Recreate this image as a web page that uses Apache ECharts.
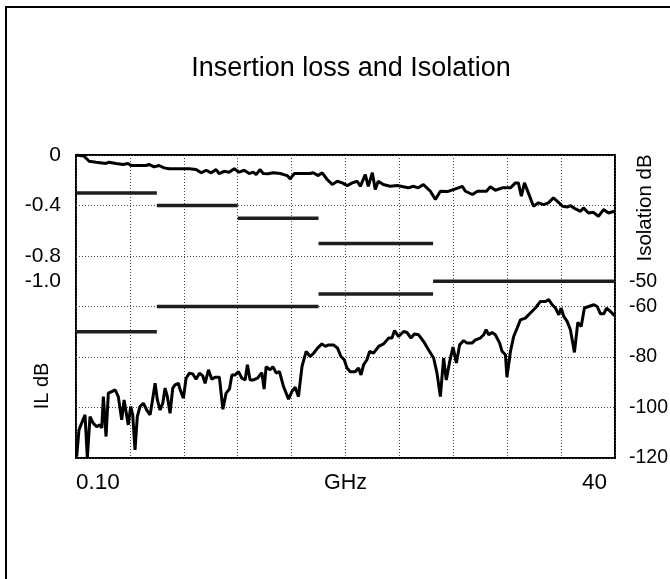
<!DOCTYPE html>
<html>
<head>
<meta charset="utf-8">
<title>Insertion loss and Isolation</title>
<script src="https://cdn.jsdelivr.net/npm/echarts@6/dist/echarts.min.js"></script>
<style>
  html, body { margin: 0; padding: 0; background: #fff; }
  #chart { width: 670px; height: 579px; }
</style>
</head>
<body>
<div id="chart"></div>
<script>
// insertion loss curve (GHz, dB)
var ilFreq = [0, 0.59, 0.97, 1.49, 2.23, 2.45, 2.97, 3.49, 3.86, 4.09, 4.46, 5.2, 5.42, 5.79, 6.17, 6.54, 6.91, 7.43, 8.39, 8.91,
  9.29, 9.66, 10.03, 10.4, 10.62, 10.99, 11.36, 11.74, 12.11, 12.48, 12.85, 13.15, 13.37, 13.67, 13.89, 14.26, 14.63, 15.15, 15.67, 15.9,
  16.19, 16.64, 17.38, 17.6, 17.98, 18.27, 18.64, 19.02, 19.39, 19.76, 20.13, 20.5, 20.87, 21.1, 21.47, 21.69, 21.99, 22.21, 22.43, 22.8,
  23.32, 23.84, 24.29, 24.66, 25.03, 25.4, 25.78, 26.3, 26.67, 27.04, 27.56, 28.16, 28.67, 28.9, 29.42, 29.79, 30.46, 30.75, 31.12, 31.64,
  32.24, 32.61, 32.83, 33.05, 33.28, 33.57, 33.95, 34.32, 34.69, 35.06, 35.43, 35.73, 36.1, 36.47, 36.69, 37.07, 37.44, 37.66, 38.03, 38.4,
  38.77, 39.15, 39.52, 39.96];
var ilLoss = [0, -0.008, -0.049, -0.057, -0.067, -0.057, -0.067, -0.075, -0.067, -0.083, -0.083, -0.083, -0.075, -0.094, -0.083, -0.102, -0.109, -0.109, -0.109, -0.115,
  -0.141, -0.121, -0.141, -0.115, -0.147, -0.129, -0.136, -0.109, -0.136, -0.121, -0.147, -0.136, -0.155, -0.115, -0.147, -0.149, -0.141, -0.147, -0.163, -0.189,
  -0.147, -0.147, -0.147, -0.141, -0.163, -0.141, -0.194, -0.234, -0.208, -0.221, -0.242, -0.221, -0.208, -0.248, -0.155, -0.248, -0.141, -0.274, -0.208, -0.234,
  -0.248, -0.242, -0.252, -0.26, -0.248, -0.26, -0.234, -0.287, -0.353, -0.287, -0.29, -0.268, -0.248, -0.287, -0.313, -0.287, -0.287, -0.252, -0.279, -0.26,
  -0.26, -0.221, -0.221, -0.327, -0.221, -0.3, -0.406, -0.379, -0.393, -0.379, -0.34, -0.367, -0.406, -0.411, -0.401, -0.427, -0.446, -0.419, -0.459, -0.454,
  -0.486, -0.432, -0.459, -0.446];

// isolation curve (GHz, dB)
var isoFreq = [0.05, 0.22, 0.42, 0.67, 0.84, 1.04, 1.26, 1.54, 1.78, 1.91, 2.03, 2.23, 2.4, 2.65, 2.9, 3.14, 3.39, 3.57, 3.88, 4.06,
  4.21, 4.38, 4.55, 4.75, 5.0, 5.25, 5.5, 5.7, 5.87, 6.04, 6.24, 6.44, 6.61, 6.78, 6.98, 7.18, 7.35, 7.6, 7.73, 7.97,
  8.17, 8.42, 8.67, 8.91, 9.16, 9.41, 9.58, 9.83, 10.08, 10.32, 10.64, 10.9, 11.14, 11.39, 11.57, 11.81, 12.06, 12.31, 12.55, 12.72,
  12.92, 13.17, 13.47, 13.79, 13.96, 14.11, 14.41, 14.61, 14.86, 15.1, 15.4, 15.77, 16.02, 16.27, 16.51, 16.77, 17.08, 17.38, 17.63, 17.92,
  18.25, 18.5, 18.74, 19.11, 19.41, 19.66, 19.91, 20.11, 20.35, 20.72, 20.97, 21.15, 21.34, 21.59, 21.79, 22.08, 22.46, 22.83, 23.2, 23.45,
  23.64, 23.94, 24.31, 24.56, 24.86, 25.11, 25.43, 25.8, 26.17, 26.54, 26.79, 27.04, 27.28, 27.48, 27.73, 27.98, 28.23, 28.47, 28.77, 29.02,
  29.39, 29.64, 30.01, 30.25, 30.43, 30.63, 30.88, 31.12, 31.44, 31.62, 31.87, 31.98, 32.24, 32.48, 32.74, 32.98, 33.35, 33.72, 34.09, 34.47,
  34.84, 35.08, 35.34, 35.58, 35.83, 36.0, 36.2, 36.45, 36.69, 36.99, 37.24, 37.49, 37.73, 38.05, 38.43, 38.68, 38.92, 39.17, 39.37, 39.67,
  39.96];
var isoDb = [-119.5, -108.9, -106.2, -102.9, -120.0, -103.6, -106.1, -107.6, -106.9, -108.1, -95.7, -111.5, -94.3, -93.7, -93.0, -95.7, -104.9, -97.0, -106.9, -99.6,
  -102.9, -116.8, -103.6, -99.6, -98.3, -101.0, -102.9, -96.3, -90.4, -97.0, -101.0, -98.3, -92.3, -95.7, -102.3, -92.3, -91.0, -90.4, -93.0, -96.3,
  -88.4, -86.4, -86.7, -88.8, -86.4, -87.5, -90.4, -85.1, -88.8, -88.0, -88.0, -100.7, -94.3, -92.7, -87.1, -87.1, -85.8, -88.4, -89.1, -83.1,
  -89.1, -89.1, -88.4, -86.2, -92.7, -83.8, -85.1, -83.8, -86.4, -85.8, -91.7, -96.7, -93.7, -92.0, -95.7, -83.8, -77.8, -79.8, -78.5, -76.5,
  -74.8, -75.8, -75.2, -75.2, -76.5, -79.8, -81.1, -84.4, -85.8, -85.8, -84.4, -87.1, -83.1, -81.1, -77.8, -78.5, -75.8, -74.8, -72.5, -72.5,
  -69.5, -71.9, -69.9, -70.3, -72.5, -70.9, -71.2, -73.9, -77.2, -80.4, -86.4, -95.7, -80.4, -89.1, -81.8, -76.1, -82.4, -75.2, -73.5, -74.5,
  -74.5, -73.2, -72.5, -71.2, -69.2, -71.2, -70.3, -71.2, -74.5, -77.8, -79.1, -88.0, -77.8, -71.9, -68.5, -65.3, -64.6, -62.6, -60.6, -58.0,
  -58.0, -57.3, -59.3, -60.6, -63.3, -60.6, -63.9, -65.9, -69.2, -78.2, -66.3, -67.9, -60.6, -60.0, -59.3, -60.0, -62.9, -62.9, -60.6, -62.0,
  -63.7];

// spec limits: [from GHz, to GHz, dB]
var ilSpec = [[0, 6, -0.3], [6, 12, -0.4], [12, 18, -0.5], [18, 26.5, -0.7]];
var isoSpec = [[0, 6, -70], [6, 18, -60], [18, 26.5, -55], [26.5, 40, -50]];

// tick labels that are printed
var ilTicks = [0, -0.4, -0.8, -1.0];
var isoTicks = [-120, -100, -80, -60, -50];
var freqTicks = { 0: '0.10', 40: '40' };

var font = 'Liberation Sans, Arial, sans-serif';

function pairs(xs, ys) {
  return xs.map(function (x, i) { return [x, ys[i]]; });
}
function pick(list, v, fmt) {
  for (var i = 0; i < list.length; i++) {
    if (Math.abs(list[i] - v) < 1e-6) return fmt(list[i]);
  }
  return '';
}

var series = [];
ilSpec.forEach(function (b) {
  series.push({
    type: 'line', yAxisIndex: 0, symbol: 'none', silent: true,
    data: [[b[0], b[2]], [b[1], b[2]]],
    lineStyle: { color: '#1e1e1e', width: 3.5, cap: 'butt' }
  });
});
isoSpec.forEach(function (b) {
  series.push({
    type: 'line', yAxisIndex: 1, symbol: 'none', silent: true,
    data: [[b[0], b[2]], [b[1], b[2]]],
    lineStyle: { color: '#1e1e1e', width: 3.5, cap: 'butt' }
  });
});
series.push({
  name: 'IL', type: 'line', yAxisIndex: 0, symbol: 'none',
  data: pairs(ilFreq, ilLoss),
  lineStyle: { color: '#000', width: 3 }
});
series.push({
  name: 'Isolation', type: 'line', yAxisIndex: 1, symbol: 'none',
  data: pairs(isoFreq, isoDb),
  lineStyle: { color: '#000', width: 3 }
});

var myChart = echarts.init(document.getElementById('chart'));
var option = {
  animation: false,
  backgroundColor: '#fff',
  title: {
    text: 'Insertion loss and Isolation',
    left: 346, top: 50, textAlign: 'center',
    textStyle: { fontFamily: font, fontSize: 27, fontWeight: 'normal', color: '#000' }
  },
  grid: {
    left: 76, top: 155, right: 55, bottom: 121,
    show: true, borderColor: '#000', borderWidth: 2,
    containLabel: false, outerBoundsMode: 'none'
  },
  xAxis: {
    type: 'value', min: 0, max: 40, interval: 4,
    name: 'GHz', nameLocation: 'middle', nameGap: 14, nameMoveOverlap: false,
    nameTextStyle: { fontFamily: font, fontSize: 21.5, color: '#000' },
    axisLine: { show: false }, axisTick: { show: false },
    splitLine: { show: true, lineStyle: { color: '#444', width: 1, type: [1, 2] } },
    axisLabel: {
      margin: 13, fontFamily: font, fontSize: 22.5, color: '#000',
      showMinLabel: true, showMaxLabel: true,
      alignMinLabel: 'left', alignMaxLabel: 'right', padding: [0, 8, 0, 0],
      formatter: function (v) { return freqTicks[v] || ''; }
    }
  },
  yAxis: [{
    type: 'value', position: 'left', min: -2.4, max: 0, interval: 0.2,
    axisLine: { show: false }, axisTick: { show: false }, splitLine: { show: false },
    axisLabel: {
      margin: 15, fontFamily: font, fontSize: 21, color: '#000',
      formatter: function (v) {
        return pick(ilTicks, v, function (t) { return t === 0 ? '0' : t.toFixed(1); });
      }
    }
  }, {
    type: 'value', position: 'right', min: -120, max: 0, interval: 10,
    axisLine: { show: false }, axisTick: { show: false },
    splitLine: { show: true, lineStyle: { color: ['#444', 'rgba(0,0,0,0)'], width: 1, type: [1, 2] } },
    axisLabel: {
      margin: 14, fontFamily: font, fontSize: 19.5, color: '#000',
      formatter: function (v) {
        return pick(isoTicks, v, function (t) { return String(t); });
      }
    }
  }],
  graphic: [
    {
      type: 'rect', silent: true,
      shape: { x: 6, y: 7, width: 700, height: 620 },
      style: { fill: 'none', stroke: '#000', lineWidth: 2 }
    },
    {
      type: 'text', x: 42, y: 386, rotation: Math.PI / 2,
      style: { text: 'IL dB', font: '20px ' + font, fill: '#000', align: 'center', verticalAlign: 'middle' }
    },
    {
      type: 'text', x: 645, y: 208, rotation: Math.PI / 2,
      style: { text: 'Isolation dB', font: '20.5px ' + font, fill: '#000', align: 'center', verticalAlign: 'middle' }
    }
  ],
  series: series
};
myChart.setOption(option);
</script>
</body>
</html>
